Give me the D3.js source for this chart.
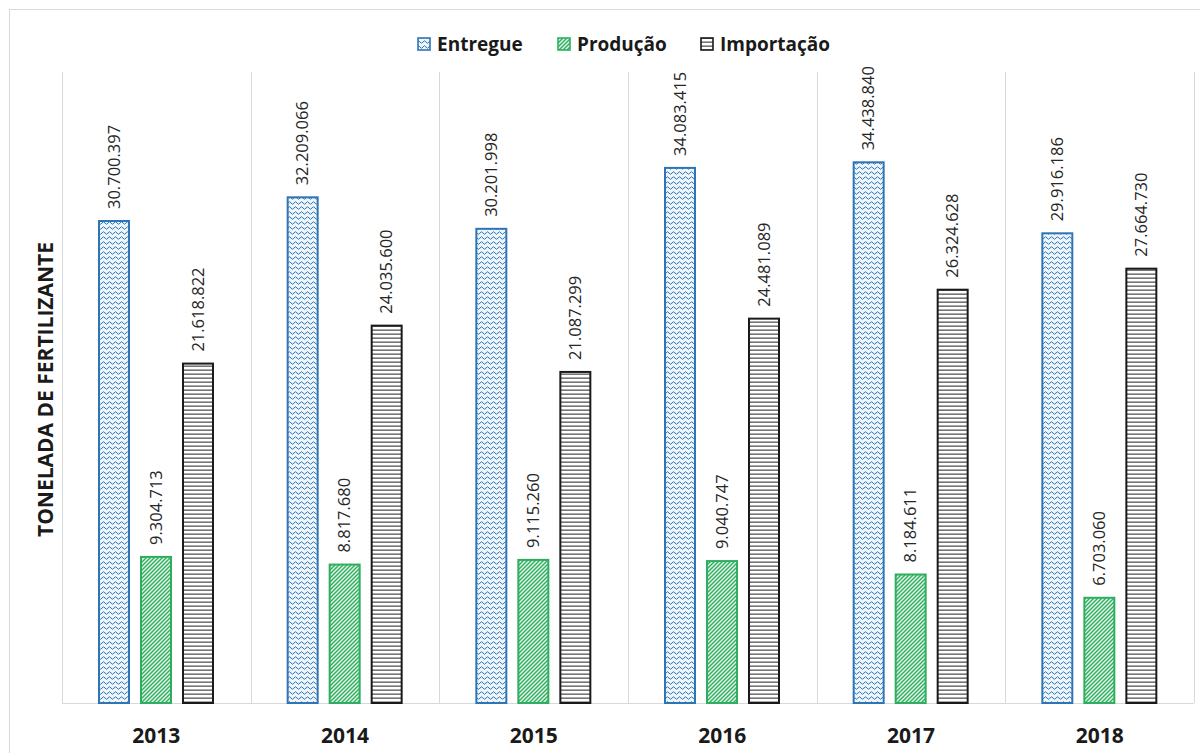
<!DOCTYPE html>
<html>
<head>
<meta charset="utf-8">
<script src="https://cdn.jsdelivr.net/npm/d3@7"></script>
<style>
  body { margin: 0; background: #fff; }
  text { font-family: "Open Sans", "Liberation Sans", sans-serif; }
</style>
</head>
<body>
<div id="chart"></div>
<script>
// data
var years = ["2013", "2014", "2015", "2016", "2017", "2018"]
var seriesNames = ["Entregue", "Produção", "Importação"]
var entregue = [30700397, 32209066, 30201998, 34083415, 34438840, 29916186]
var producao = [9304713, 8817680, 9115260, 9040747, 8184611, 6703060]
var importacao = [21618822, 24035600, 21087299, 24481089, 26324628, 27664730]
var yTicks = [0, 40000000]

var width = 1200
var height = 753
var plotLeft = 62, plotRight = 1194, plotTop = 72, plotBottom = 703

var svg = d3.select("#chart").append("svg")
    .attr("width", width)
    .attr("height", height)

// patterns, like the excel fills
var defs = svg.append("defs")

var pWave = defs.append("pattern")
    .attr("id", "pat-wave")
    .attr("patternUnits", "userSpaceOnUse")
    .attr("width", 6).attr("height", 5)
pWave.append("rect").attr("width", 6).attr("height", 5).attr("fill", "#eef5fb")
pWave.append("path")
    .attr("d", "M0,3 Q1.5,0.5 3,3 T6,3")
    .attr("fill", "none")
    .attr("stroke", "#2e75b6")
    .attr("stroke-width", 1)

var pDiag = defs.append("pattern")
    .attr("id", "pat-diag")
    .attr("patternUnits", "userSpaceOnUse")
    .attr("width", 4).attr("height", 4)
pDiag.append("rect").attr("width", 4).attr("height", 4).attr("fill", "#e4f6ea")
pDiag.append("path")
    .attr("d", "M-1,1 L1,-1 M0,4 L4,0 M3,5 L5,3")
    .attr("stroke", "#2fae5f")
    .attr("stroke-width", 1.4)

var pHoriz = defs.append("pattern")
    .attr("id", "pat-horiz")
    .attr("patternUnits", "userSpaceOnUse")
    .attr("width", 8).attr("height", 4)
pHoriz.append("rect").attr("width", 8).attr("height", 4).attr("fill", "#fff")
pHoriz.append("rect").attr("y", 1.5).attr("width", 8).attr("height", 1.3).attr("fill", "#555")

var fills = ["url(#pat-wave)", "url(#pat-diag)", "url(#pat-horiz)"]
var strokes = ["#2e75b6", "#2fae5f", "#1a1a1a"]

// outer chart frame
svg.append("rect")
    .attr("x", 9.5).attr("y", 9.5)
    .attr("width", width).attr("height", height)
    .attr("fill", "none")
    .attr("stroke", "#d9d9d9")

let xScale = d3.scaleBand()
    .domain(years)
    .range([plotLeft, plotRight])
    .padding(0)

let xInner = d3.scaleBand()
    .domain(seriesNames)
    .range([37, 151])
    .paddingInner(0.286)
    .paddingOuter(0)

let yScale = d3.scaleLinear()
    .domain([yTicks[0], yTicks[1]])
    .range([plotBottom, 75])

// vertical separators between years
var bounds = years.map(function(y) { return xScale(y) })
bounds.push(plotRight)
svg.selectAll(".vgrid")
    .data(bounds)
    .enter()
    .append("line")
    .attr("class", "vgrid")
    .attr("x1", function(d) { return Math.round(d) + 0.5 })
    .attr("x2", function(d) { return Math.round(d) + 0.5 })
    .attr("y1", plotTop)
    .attr("y2", plotBottom)
    .attr("stroke", "#d9d9d9")

// baseline
svg.append("line")
    .attr("x1", plotLeft).attr("x2", plotRight)
    .attr("y1", plotBottom + 0.5).attr("y2", plotBottom + 0.5)
    .attr("stroke", "#d9d9d9")

var allSeries = [entregue, producao, importacao]
var fmt = d3.formatLocale({ decimal: ",", thousands: ".", grouping: [3], currency: ["", ""] }).format(",d")

allSeries.forEach(function(vals, s) {
  var g = svg.append("g").attr("class", "series-" + s)
  g.selectAll("rect")
      .data(vals)
      .enter()
      .append("rect")
      .attr("x", function(d, i) { return xScale(years[i]) + xInner(seriesNames[s]) })
      .attr("y", function(d) { return yScale(d) })
      .attr("width", xInner.bandwidth())
      .attr("height", function(d) { return plotBottom - yScale(d) })
      .attr("fill", fills[s])
      .attr("stroke", strokes[s])
      .attr("stroke-width", 2)

  g.selectAll("text")
      .data(vals)
      .enter()
      .append("text")
      .attr("transform", function(d, i) {
        var cx = xScale(years[i]) + xInner(seriesNames[s]) + xInner.bandwidth() / 2
        return "translate(" + cx + "," + (yScale(d) - 12) + ") rotate(-90)"
      })
      .attr("dy", "0.35em")
      .style("font-size", "16.5px")
      .style("fill", "#262626")
      .text(function(d) { return fmt(d) })
})

// x axis labels
var xAxis = d3.axisBottom(xScale).tickSize(0).tickPadding(0)
var gx = svg.append("g")
    .attr("transform", "translate(0," + plotBottom + ")")
    .call(xAxis)
gx.select(".domain").remove()
gx.selectAll("text")
    .attr("y", 33)
    .attr("dy", "0.35em")
    .style("font-size", "21px")
    .style("font-weight", "bold")
    .style("fill", "#1a1a1a")
    .style("font-family", "'Open Sans', sans-serif")

// y axis title
svg.append("text")
    .attr("transform", "translate(46," + ((plotTop + plotBottom) / 2 + 2) + ") rotate(-90)")
    .attr("text-anchor", "middle")
    .attr("dy", "0.35em")
    .style("font-size", "21px")
    .style("font-weight", "bold")
    .style("fill", "#1a1a1a")
    .text("TONELADA  DE FERTILIZANTE")

// legend
var legendX = [417, 557, 700]
var legend = svg.selectAll(".legend")
    .data(seriesNames)
    .enter()
    .append("g")
    .attr("class", "legend")
    .attr("transform", function(d, i) { return "translate(" + legendX[i] + ",44)" })
legend.append("rect")
    .attr("x", 1).attr("y", -6)
    .attr("width", 12).attr("height", 12)
    .attr("fill", function(d, i) { return fills[i] })
    .attr("stroke", function(d, i) { return strokes[i] })
    .attr("stroke-width", 1.6)
legend.append("text")
    .attr("x", 20)
    .attr("dy", "0.35em")
    .style("font-size", "19px")
    .style("font-weight", "bold")
    .style("fill", "#1a1a1a")
    .text(function(d) { return d })
</script>
</body>
</html>
